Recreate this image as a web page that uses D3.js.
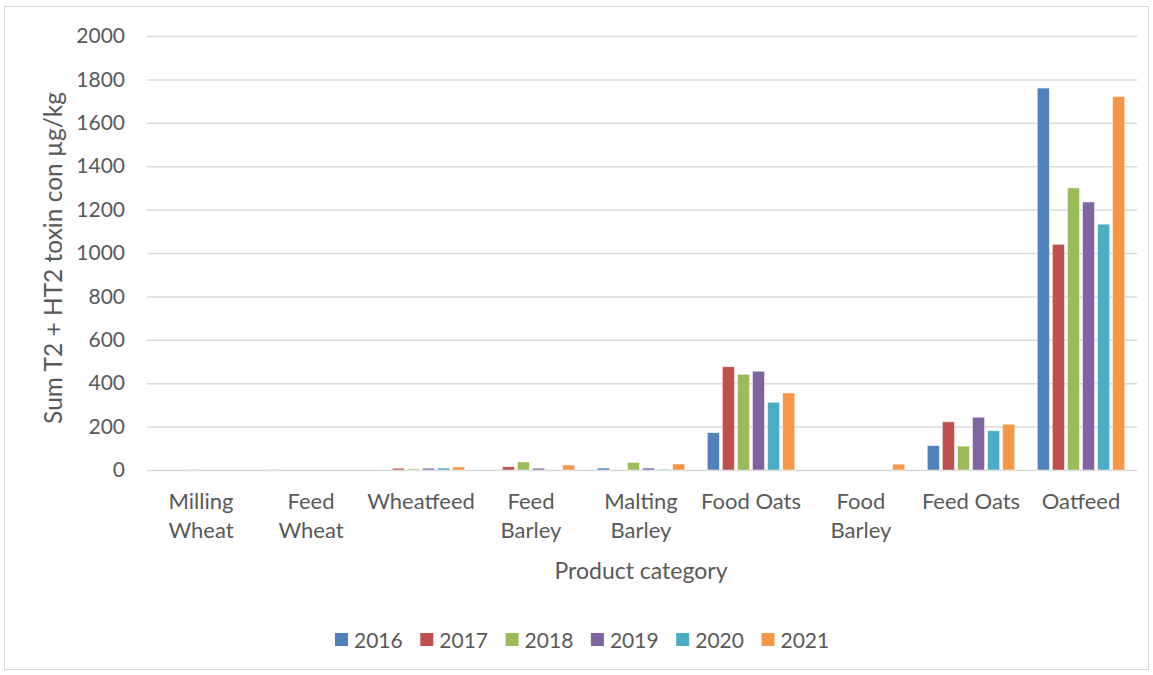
<!DOCTYPE html>
<html>
<head>
<meta charset="utf-8">
<script src="https://cdn.jsdelivr.net/npm/d3@7"></script>
<style>
  body { margin: 0; background: #fff; }
  text { font-family: Lato, "Open Sans", sans-serif; fill: #595959; }
</style>
</head>
<body>
<svg id="chart" width="1153" height="675"></svg>
<script>
// categories and values
const categories = [
  ["Milling", "Wheat"], ["Feed", "Wheat"], ["Wheatfeed"], ["Feed", "Barley"],
  ["Malting", "Barley"], ["Food Oats"], ["Food", "Barley"], ["Feed Oats"], ["Oatfeed"]
];
const years = ["2016", "2017", "2018", "2019", "2020", "2021"];
const colors = ["#4f81bd", "#c0504d", "#9bbb59", "#8064a2", "#4bacc6", "#f79646"];

const v2016 = [0, 2, 0, 0, 9, 172, 0, 112, 1760];
const v2017 = [0, 0, 8, 15, 0, 476, 0, 222, 1040];
const v2018 = [3, 0, 5, 37, 35, 441, 0, 110, 1300];
const v2019 = [0, 0, 8, 8, 9, 455, 0, 243, 1235];
const v2020 = [0, 0, 9, 0, 4, 312, 0, 181, 1133];
const v2021 = [0, 0, 14, 23, 28, 355, 27, 211, 1720];
const series = [v2016, v2017, v2018, v2019, v2020, v2021];

const yTicks = [0, 200, 400, 600, 800, 1000, 1200, 1400, 1600, 1800, 2000];

const margin = { top: 36, right: 17, bottom: 205, left: 146 };
const width = 1153, height = 675;

const svg = d3.select("#chart");

// outer frame
svg.append("rect")
  .attr("x", 4.5).attr("y", 6.5)
  .attr("width", 1144).attr("height", 663)
  .attr("fill", "none").attr("stroke", "#d9d9d9");

const x = d3.scaleBand()
  .domain(d3.range(categories.length))
  .range([margin.left, width - margin.right]);

const xInner = d3.scaleBand()
  .domain(years)
  .range([-43.7, 43.7])
  .paddingInner(0.2);

const y = d3.scaleLinear()
  .domain([0, 2000])
  .range([height - margin.bottom, margin.top]);

// grid
const yAxis = d3.axisLeft(y)
  .tickValues(yTicks)
  .tickFormat(d3.format("d"))
  .tickSize(-(width - margin.left - margin.right))
  .tickPadding(22);

svg.append("g")
  .attr("class", "y-axis")
  .attr("transform", `translate(${margin.left + 1},0)`)
  .call(yAxis)
  .call(g => g.select(".domain").remove())
  .call(g => g.selectAll(".tick line").attr("stroke", "#d9d9d9").attr("stroke-width", 1.5))
  .call(g => g.selectAll(".tick text").attr("font-size", 21).attr("fill", "#595959"));

// bars
series.forEach((vals, si) => {
  svg.append("g")
    .selectAll("rect")
    .data(vals)
    .join("rect")
    .attr("x", (d, i) => x(i) + x.bandwidth() / 2 + xInner(years[si]))
    .attr("width", xInner.bandwidth())
    .attr("y", d => y(d))
    .attr("height", d => y(0) - y(d))
    .attr("fill", colors[si])
    .attr("stroke", "#fff")
    .attr("stroke-opacity", 0.6)
    .attr("stroke-width", 0.8);
});

// x labels
const xl = svg.append("g")
  .selectAll("text")
  .data(categories)
  .join("text")
  .attr("text-anchor", "middle")
  .attr("font-size", 22)
  .attr("x", (d, i) => x(i) + x.bandwidth() / 2)
  .attr("y", 509);
xl.selectAll("tspan")
  .data(d => d)
  .join("tspan")
  .attr("x", function () { return this.parentNode.getAttribute("x"); })
  .attr("dy", (d, i) => i === 0 ? 0 : 29)
  .text(d => d);

// axis titles
svg.append("text")
  .attr("x", (margin.left + width - margin.right) / 2)
  .attr("y", 579)
  .attr("text-anchor", "middle")
  .attr("font-size", 23)
  .text("Product category");

svg.append("text")
  .attr("transform", "translate(62, 258) rotate(-90)")
  .attr("text-anchor", "middle")
  .attr("font-size", 24.5)
  .text("Sum T2 + HT2 toxin con µg/kg");

// legend
const legend = svg.append("g").attr("transform", "translate(335,640)");
const lx = d3.scaleOrdinal().domain(years).range(d3.range(years.length).map(i => i * 85.3));
const item = legend.selectAll("g")
  .data(years)
  .join("g")
  .attr("transform", d => `translate(${lx(d)},0)`);
item.append("rect")
  .attr("x", 0).attr("y", -7)
  .attr("width", 13).attr("height", 13)
  .attr("fill", (d, i) => colors[i]);
item.append("text")
  .attr("x", 19).attr("y", 7.5)
  .attr("font-size", 21)
  .text(d => d);
</script>
</body>
</html>
